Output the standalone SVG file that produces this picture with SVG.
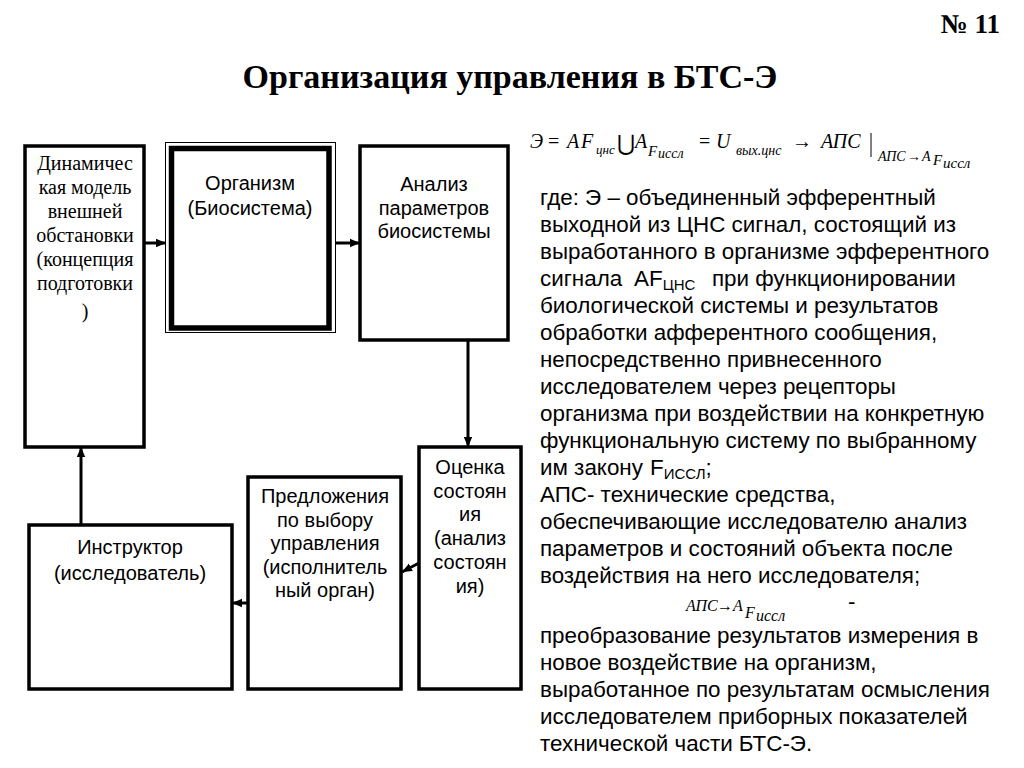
<svg xmlns="http://www.w3.org/2000/svg" width="1024" height="768" viewBox="0 0 1024 768">
<defs>
<marker id="ah" markerUnits="userSpaceOnUse" markerWidth="10" markerHeight="10" viewBox="0 0 10 10" refX="10" refY="5" orient="auto">
<path d="M0,0.8 L10,5 L0,9.2 Z" fill="#000"/>
</marker>
<style>
.box{fill:#fff;stroke:#000;stroke-width:3.5}
.ser{font-family:"Liberation Serif","Times New Roman",serif;font-size:20px;fill:#000;text-anchor:middle}
.san{font-family:"Liberation Sans",Arial,sans-serif;font-size:20px;fill:#000;text-anchor:middle}
.body{font-family:"Liberation Sans",Arial,sans-serif;font-size:22.4px;fill:#000}
.sub{font-size:15px}
.m{font-family:"Liberation Serif","Times New Roman",serif;font-style:italic;fill:#000}
.mr{font-family:"Liberation Serif","DejaVu Serif",serif;fill:#000}
.con{stroke:#000;stroke-width:3;fill:none;marker-end:url(#ah)}
</style>
</defs>
<rect width="1024" height="768" fill="#fff"/>

<text x="1000" y="33" font-family="Liberation Serif,serif" font-weight="bold" font-size="27" text-anchor="end">№ 11</text>
<text x="510" y="88" font-family="Liberation Serif,serif" font-weight="bold" font-size="34" text-anchor="middle">Организация управления в БТС-Э</text>

<g id="formula1">
<text class="m" x="530" y="148" font-size="20" font-style="normal">Э</text>
<text class="mr" x="548" y="148" font-size="20">=</text>
<text class="m" x="567" y="148" font-size="20">A</text>
<text class="m" x="581" y="148" font-size="20">F</text>
<text class="m" x="596" y="154" font-size="13">цнс</text>
<text class="mr" x="617" y="151" font-size="22" font-family="DejaVu Serif,serif">⋃</text>
<text class="m" x="635" y="148" font-size="20">A</text>
<text class="m" x="648" y="156" font-size="15">F</text>
<text class="m" x="658" y="158" font-size="14">иссл</text>
<text class="mr" x="699" y="148" font-size="20">=</text>
<text class="m" x="716" y="148" font-size="20">U</text>
<text class="m" x="736" y="155" font-size="14">вых.цнс</text>
<text class="mr" x="792" y="148" font-size="20">→</text>
<text class="m" x="821" y="148" font-size="20">АПС</text>
<line x1="871" y1="133" x2="871" y2="157" stroke="#000" stroke-width="1"/>
<text class="m" x="878" y="161" font-size="14">АПС</text>
<text class="mr" x="907" y="161" font-size="14">→</text>
<text class="m" x="922" y="161" font-size="14" font-style="normal">A</text>
<text class="m" x="933" y="165" font-size="15">F</text>
<text class="m" x="943" y="168" font-size="15">иссл</text>
</g>

<g id="n_model">
<rect class="box" x="25" y="146" width="119" height="301"/>
<text class="ser"><tspan x="85" y="170">Динамичес</tspan><tspan x="85" y="194">кая модель</tspan><tspan x="85" y="218">внешней</tspan><tspan x="85" y="242">обстановки</tspan><tspan x="85" y="266">(концепция</tspan><tspan x="85" y="290">подготовки</tspan><tspan x="85" y="318">)</tspan></text>
</g>

<g id="n_organism">
<rect x="165.5" y="142.5" width="170" height="190" fill="#fff" stroke="#000" stroke-width="1"/>
<rect x="171.5" y="148.5" width="157.5" height="179.5" fill="#fff" stroke="#000" stroke-width="5.5"/>
<text class="san"><tspan x="250" y="190">Организм</tspan><tspan x="250" y="215">(Биосистема)</tspan></text>
</g>

<g id="n_analysis">
<rect class="box" x="360" y="146" width="148" height="194"/>
<text class="san"><tspan x="434" y="191">Анализ</tspan><tspan x="434" y="215">параметров</tspan><tspan x="434" y="238">биосистемы</tspan></text>
</g>

<g id="n_eval">
<rect class="box" x="419" y="447" width="102" height="242"/>
<text class="san"><tspan x="470" y="474">Оценка</tspan><tspan x="470" y="498">состоян</tspan><tspan x="470" y="521">ия</tspan><tspan x="470" y="545">(анализ</tspan><tspan x="470" y="569">состоян</tspan><tspan x="470" y="593">ия)</tspan></text>
</g>

<g id="n_proposal">
<rect class="box" x="248" y="477" width="153" height="212"/>
<text class="san"><tspan x="325" y="503">Предложения</tspan><tspan x="325" y="527">по выбору</tspan><tspan x="325" y="550">управления</tspan><tspan x="325" y="574">(исполнитель</tspan><tspan x="325" y="597">ный орган)</tspan></text>
</g>

<g id="n_instructor">
<rect class="box" x="29" y="525" width="203" height="164"/>
<text class="san"><tspan x="130" y="554">Инструктор</tspan><tspan x="130" y="580">(исследователь)</tspan></text>
</g>

<g id="connectors">
<line class="con" x1="144" y1="243" x2="166" y2="243"/>
<line class="con" x1="336" y1="243" x2="360" y2="243"/>
<line class="con" x1="468" y1="340" x2="468" y2="447"/>
<line class="con" x1="419" y1="563" x2="402" y2="572"/>
<line class="con" x1="248" y1="603" x2="232" y2="603"/>
<line class="con" x1="81" y1="525" x2="81" y2="447"/>
</g>

<g id="description">
<text class="body">
<tspan x="540" y="205">где: Э – объединенный эфферентный</tspan>
<tspan x="540" y="232">выходной из ЦНС сигнал, состоящий из</tspan>
<tspan x="540" y="259">выработанного в организме эфферентного</tspan>
<tspan x="540" y="286">сигнала</tspan><tspan x="634" y="286">AF</tspan><tspan class="sub" dy="4">ЦНС</tspan><tspan x="712" y="286">при функционировании</tspan>
<tspan x="540" y="313">биологической системы и результатов</tspan>
<tspan x="540" y="340">обработки афферентного сообщения,</tspan>
<tspan x="540" y="367">непосредственно привнесенного</tspan>
<tspan x="540" y="394">исследователем через рецепторы</tspan>
<tspan x="540" y="421">организма при воздействии на конкретную</tspan>
<tspan x="540" y="448">функциональную систему по выбранному</tspan>
<tspan x="540" y="475">им закону</tspan><tspan x="650" y="475">F</tspan><tspan class="sub" dy="4">ИССЛ</tspan><tspan dy="-4">;</tspan>
<tspan x="540" y="502">АПС- технические средства,</tspan>
<tspan x="540" y="529">обеспечивающие исследователю анализ</tspan>
<tspan x="540" y="556">параметров и состояний объекта после</tspan>
<tspan x="540" y="583">воздействия на него исследователя;</tspan>
<tspan x="848" y="609">-</tspan>
<tspan x="540" y="643">преобразование результатов измерения в</tspan>
<tspan x="540" y="670">новое воздействие на организм,</tspan>
<tspan x="540" y="697">выработанное по результатам осмысления</tspan>
<tspan x="540" y="724">исследователем приборных показателей</tspan>
<tspan x="540" y="751">технической части БТС-Э.</tspan>
</text>
<text class="m" x="686" y="611" font-size="16">АПС</text>
<text class="mr" x="717" y="611" font-size="16">→</text>
<text class="m" x="733" y="611" font-size="16" font-style="normal">A</text>
<text class="m" x="745" y="618" font-size="16">F</text>
<text class="m" x="756" y="621" font-size="16">иссл</text>
</g>
</svg>
